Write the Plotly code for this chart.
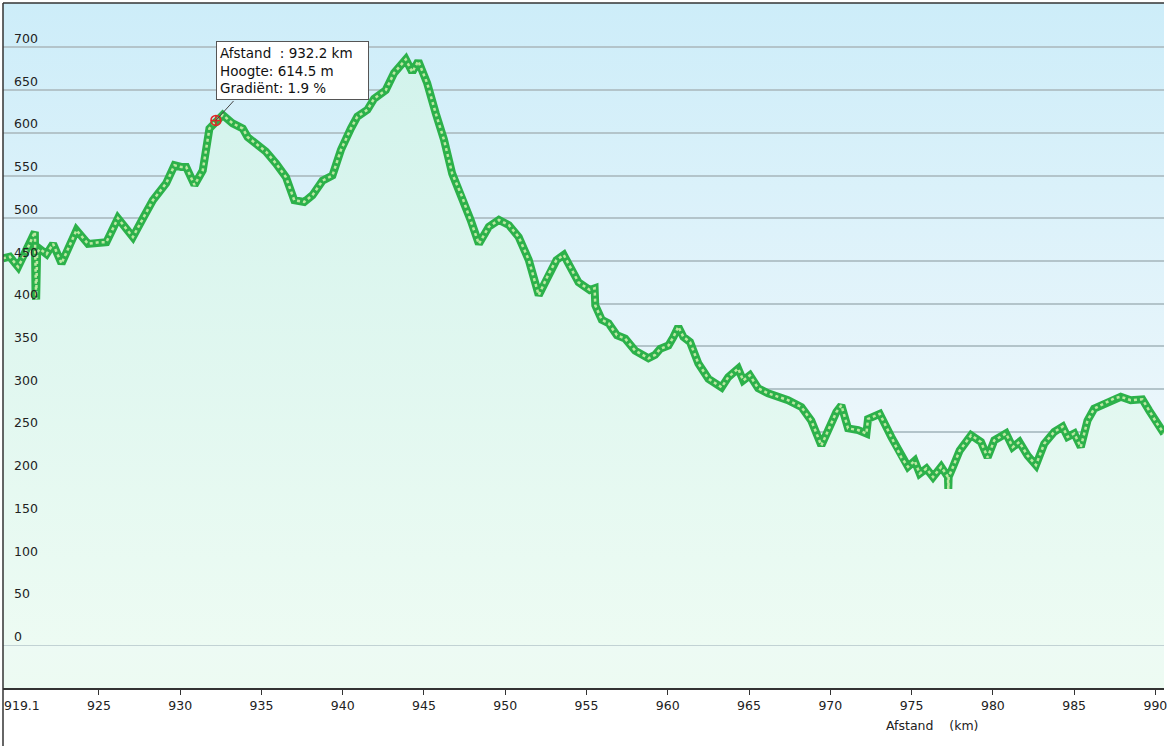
import base64
import plotly.graph_objects as go

# elevation profile (km, m)
dist_km = [
    919.10, 919.52, 920.03, 920.55, 921.06, 921.10, 921.14, 921.20, 921.37, 921.78,
    922.18, 922.70, 923.62, 924.33, 925.05, 925.46, 926.17, 927.09, 927.71, 928.32,
    929.14, 929.65, 930.06, 930.37, 930.88, 931.39, 931.80, 932.20, 932.62, 933.23,
    933.85, 934.15, 935.28, 935.90, 936.51, 937.02, 937.63, 938.14, 938.76, 939.37,
    939.89, 940.50, 940.90, 941.52, 941.93, 942.65, 943.16, 943.88, 944.28, 944.65,
    945.20, 945.72, 946.23, 946.74, 947.35, 947.87, 948.38, 948.99, 949.61, 950.22,
    950.83, 951.45, 952.06, 952.67, 953.15, 953.60, 954.10, 954.51, 955.20, 955.50,
    955.54, 955.94, 956.36, 956.87, 957.38, 957.99, 958.81, 959.22, 959.53, 960.04,
    960.35, 960.65, 960.96, 961.37, 961.88, 962.50, 963.31, 963.72, 964.33, 964.64,
    965.05, 965.56, 966.17, 966.79, 967.40, 968.22, 968.83, 969.45, 969.96, 970.37,
    970.68, 971.09, 971.71, 972.22, 972.32, 973.04, 973.75, 974.37, 974.78, 975.19,
    975.50, 975.91, 976.32, 976.82, 977.24, 977.26, 977.28, 977.55, 977.96, 978.66,
    979.27, 979.68, 980.09, 980.81, 981.22, 981.63, 982.14, 982.65, 983.16, 983.78,
    984.29, 984.60, 985.01, 985.41, 985.82, 986.23, 986.85, 987.46, 987.87, 988.48,
    989.20, 989.61, 990.12, 990.53,
]
height_m = [
    453, 455, 443, 462, 484, 410, 405, 460, 464, 458,
    470, 447, 486, 470, 472, 472, 500, 478, 500, 521,
    541, 562, 560, 560, 539, 556, 605, 614.5, 621, 611,
    605, 595, 578, 564, 548, 521, 519, 527, 544, 550,
    580, 605, 619, 627, 640, 650, 670, 686, 671, 684,
    658, 623, 592, 552, 525, 498, 470, 490, 498, 492,
    478, 451, 410, 435, 451, 457, 439, 425, 416, 418,
    398, 381, 377, 363, 359, 345, 336, 340, 347, 351,
    361, 373, 361, 355, 330, 312, 302, 314, 324, 310,
    316, 301, 295, 291, 287, 279, 263, 234, 256, 273,
    281, 254, 252, 248, 265, 271, 244, 220, 209, 216,
    201, 207, 197, 209, 197, 183, 197, 209, 228, 246,
    238, 220, 240, 248, 232, 238, 222, 211, 236, 250,
    256, 244, 248, 232, 263, 277, 283, 289, 291, 287,
    288, 275, 259, 248,
]

x_ticks = [925, 930, 935, 940, 945, 950, 955, 960, 965, 970, 975, 980, 985, 990]
y_ticks = list(range(0, 701, 50))
x_start = 919.1
x_end = 990.53

hl_km = 932.2
hl_m = 614.5
hl_grad = 1.9

# soft blue -> mint backdrop as an svg gradient
bg_svg = (
    "<svg xmlns='http://www.w3.org/2000/svg' viewBox='0 0 10 100' width='10' height='100' "
    "preserveAspectRatio='none'><defs><linearGradient id='g' x1='0' y1='0' x2='0' y2='1'>"
    "<stop offset='0' stop-color='#cdedf9'/><stop offset='0.6' stop-color='#eaf6fb'/>"
    "<stop offset='0.92' stop-color='#edfaf5'/><stop offset='1' stop-color='#edfbf2'/>"
    "</linearGradient></defs><rect width='10' height='100' fill='url(#g)'/></svg>"
)
bg_src = "data:image/svg+xml;base64," + base64.b64encode(bg_svg.encode()).decode()

fig = go.Figure()

fig.add_trace(go.Scatter(
    x=dist_km, y=height_m, mode="lines", fill="tozeroy",
    fillgradient=dict(type="vertical", start=0, stop=700,
                      colorscale=[[0, "#edfbf3"], [1, "#d2f3ec"]]),
    line=dict(color="#2cb14a", width=8),
    hoverinfo="skip", showlegend=False,
))
# light inner dots to mimic the hollow point markers
fig.add_trace(go.Scatter(
    x=dist_km, y=height_m, mode="lines",
    line=dict(color="#bde8a2", width=2.5, dash="dot"),
    hoverinfo="skip", showlegend=False,
))
fig.add_trace(go.Scatter(
    x=[hl_km], y=[hl_m], mode="markers",
    marker=dict(symbol="circle-cross-open", size=10, color="#e02828", line=dict(width=1.5)),
    hoverinfo="skip", showlegend=False,
))

tip = ("Afstand\u00a0\u00a0: %.1f km\u00a0\u00a0\u00a0<br>Hoogte: %.1f m<br>Gradiënt: %.1f %%"
       % (hl_km, hl_m, hl_grad))
fig.add_annotation(x=hl_km, y=hl_m, text="", showarrow=True, arrowhead=0,
                   arrowcolor="#444", arrowwidth=1, ax=19, ay=-21)
fig.add_annotation(x=hl_km, y=hl_m, text=tip, showarrow=False, align="left",
                   xanchor="left", yanchor="bottom", xshift=0, yshift=20,
                   bgcolor="white", bordercolor="#555", borderwidth=1, borderpad=3,
                   font=dict(family="DejaVu Sans", size=13.5, color="#111"))

fig.add_annotation(x=x_start, y=0, xref="x", yref="paper", text=str(x_start),
                   showarrow=False, xanchor="left", yanchor="top", yshift=-8, xshift=-1,
                   font=dict(family="DejaVu Sans", size=12.5, color="#222"))
fig.add_annotation(x=0.8007, y=-0.055, xref="paper", yref="paper",
                   text="Afstand\u00a0\u00a0\u00a0\u00a0(km)", showarrow=False,
                   xanchor="center", yanchor="middle",
                   font=dict(family="DejaVu Sans", size=12.5, color="#222"))

fig.add_layout_image(source=bg_src, xref="paper", yref="paper", x=0, y=1,
                     sizex=1, sizey=1, sizing="stretch", layer="below")

# outer frame: top and left edges of the chart box
fig.add_shape(type="line", xref="paper", yref="paper", x0=0, x1=1, y0=1, y1=1,
              line=dict(color="#333", width=1.5))
fig.add_shape(type="line", xref="paper", yref="paper", x0=0, x1=0, y0=-0.1, y1=1,
              line=dict(color="#333", width=1.5))

fig.update_xaxes(range=[x_start, x_end], tickvals=x_ticks, ticks="outside", ticklen=5,
                 tickcolor="#333", showgrid=False, zeroline=False,
                 showline=True, linecolor="#333", linewidth=1.5,
                 ticklabeloverflow="allow",
                 tickfont=dict(family="DejaVu Sans", size=12.5, color="#222"))
fig.update_yaxes(range=[-50, 752], tickvals=y_ticks, ticks="", showgrid=True,
                 gridcolor="#b3c4ca", gridwidth=1.5, zeroline=False, showline=False,
                 ticklabelposition="inside top", ticklabelstandoff=8,
                 tickfont=dict(family="DejaVu Sans", size=12.5, color="#222"))

fig.update_layout(
    width=1167, height=746,
    margin=dict(l=3, r=0, t=3, b=58),
    paper_bgcolor="white", plot_bgcolor="rgba(0,0,0,0)",
    font=dict(family="DejaVu Sans"),
)

fig.write_html("out.html", config={"displayModeBar": False},
               post_script="document.body.style.margin='0';document.body.style.overflow='hidden';")
